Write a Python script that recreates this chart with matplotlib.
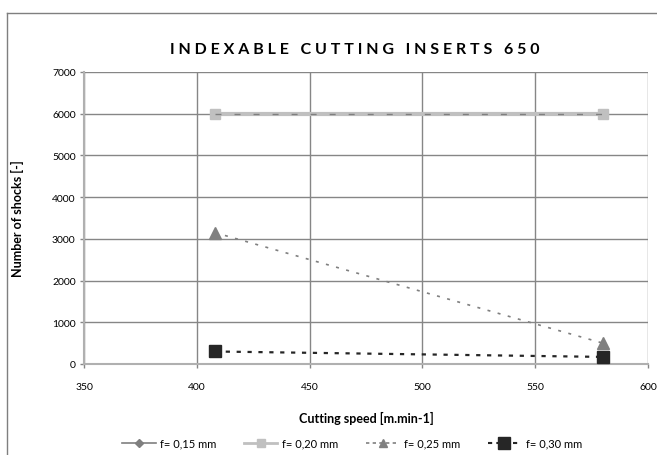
import matplotlib
matplotlib.use("Agg")
import matplotlib.pyplot as plt
from matplotlib.lines import Line2D

speed = [408, 580]
f015 = [6000, 6000]
f020 = [6000, 6000]
f025 = [3150, 500]
f030 = [300, 170]
labels = ["f= 0,15 mm", "f= 0,20 mm", "f= 0,25 mm", "f= 0,30 mm"]
xticks = [350, 400, 450, 500, 550, 600]
yticks = [0, 1000, 2000, 3000, 4000, 5000, 6000, 7000]

plt.rcParams['font.family'] = ['Lato', 'DejaVu Sans']

W, H = 657, 456
fig = plt.figure(figsize=(W/100, H/100), dpi=100)
L, R, T, B = 84, 648, 73, 365
ax = fig.add_axes([L/W, 1-B/H, (R-L)/W, (B-T)/H])

ax.plot(speed, f015, color='#7f7f7f', lw=1.2, marker='D', ms=5, zorder=3)
ax.plot(speed, f020, color='#c0c0c0', lw=3, marker='s', ms=7, zorder=4)
ax.plot(speed, f020, color='#7f7f7f', lw=1.0, ls=(0, (4.3, 9.4)), zorder=5)
ax.plot(speed, f025, color='#808080', lw=1.2, ls=(0, (1.8, 4.5)), marker='^', ms=8, zorder=3)
ax.plot(speed, f030, color='#262626', lw=1.6, ls=(0, (1.9, 3.0)), marker='s', ms=8.5, zorder=3)

ax.set_xlim(350, 600)
ax.set_ylim(0, 7000)
ax.set_xticks(xticks)
ax.set_yticks(yticks)
ax.grid(True, color='#868686', lw=1)
ax.set_axisbelow(True)
for s in ['top', 'right']:
    ax.spines[s].set_visible(False)
for s in ['left', 'bottom']:
    ax.spines[s].set_color('#b0b0b0')
    ax.spines[s].set_linewidth(1.5)
ax.tick_params(labelsize=7.5, color='#868686', length=3, width=1, pad=3)
ax.tick_params(axis='x', pad=10)

ax.set_xlabel("Cutting speed [m.min-1]", fontsize=9, fontweight='bold', labelpad=14)
ax.set_ylabel("Number of shocks [-]", fontsize=9, fontweight='bold', labelpad=20)
fig.text(355/W, 1-50/H, "I N D E X A B L E   C U T T I N G   I N S E R T S   6 5 0",
         ha='center', va='center', fontsize=11.5, fontweight='bold')

handles = [
    Line2D([], [], color='#7f7f7f', lw=1.2, marker='D', ms=4),
    Line2D([], [], color='#c0c0c0', lw=2, marker='s', ms=6),
    Line2D([], [], color='#808080', lw=1.2, ls=(0, (2, 2)), marker='^', ms=6),
    Line2D([], [], color='#262626', lw=1.5, ls=(0, (2, 2)), marker='s', ms=8),
]
fig.legend(handles, labels, loc='center', bbox_to_anchor=(352/W, 1-444/H), ncol=4,
           frameon=False, fontsize=8, handlelength=3, columnspacing=2.5, handletextpad=0.4)

fig.add_artist(Line2D([7/W, 7/W], [0, 1-14/H], color='#7f7f7f', lw=1))
fig.add_artist(Line2D([7/W, 1], [1-14/H, 1-14/H], color='#7f7f7f', lw=1))

fig.savefig("out.png", dpi=100)
